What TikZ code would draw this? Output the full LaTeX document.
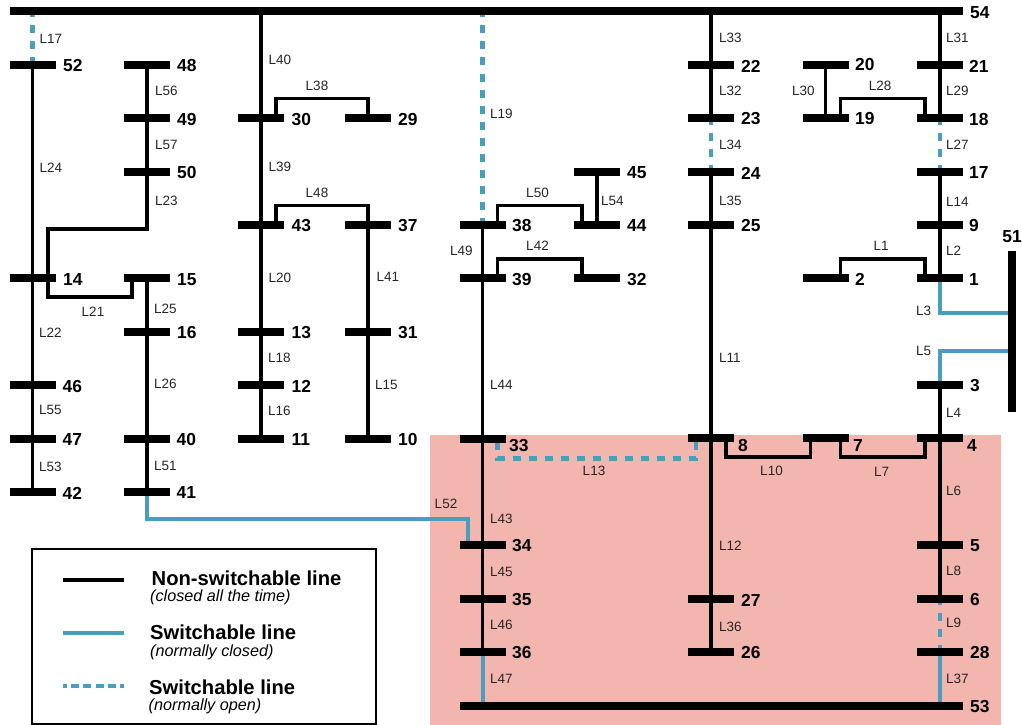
\documentclass[tikz,border=0pt]{standalone}
\usepackage{fontspec}
\usetikzlibrary{backgrounds}
\setmainfont{Liberation Sans}
\definecolor{swblue}{HTML}{4A9DBC}
\definecolor{zonepink}{HTML}{F3B6AF}
\begin{document}
\begin{tikzpicture}[
  x=1pt, y=-1pt,
  bus/.style={rectangle, fill=black, inner sep=0pt, outer sep=-1.5pt, minimum width=46pt, minimum height=8pt},
  busnum/.style={anchor=west, inner sep=0pt, font=\fontsize{17.4}{18}\selectfont\bfseries},
  lab/.style={anchor=west, inner sep=0pt, text=black!85, font=\fontsize{13.5}{14}\selectfont},
  labc/.style={lab, anchor=center},
  nline/.style={line width=3.8pt, black},
  swline/.style={line width=4pt, swblue},
  openline/.style={line width=4.2pt, swblue, dash pattern=on 8pt off 8pt, dash phase=4.5pt},
  keyhead/.style={anchor=west, inner sep=0pt, font=\fontsize{20.2}{21}\selectfont\bfseries},
  keysub/.style={anchor=west, inner sep=0pt, font=\fontsize{16.2}{17}\selectfont\itshape}
]
  \useasboundingbox (0,0) rectangle (1022,725);

  % Barras largas
  \node[bus, minimum width=953pt] (b54) at (486.5,11.5) {};
  \node[bus, minimum width=503pt] (b53) at (711,705.5) {};
  \node[bus, minimum width=8pt, minimum height=160.5pt] (b51) at (1012,331.5) {};

  % Columna 1
  \node[bus] (b52) at (32.5,65) {};
  \node[bus] (b14) at (32.5,278.3) {};
  \node[bus] (b46) at (32.5,385) {};
  \node[bus] (b47) at (32.5,438.7) {};
  \node[bus] (b42) at (32.5,491.7) {};

  % Columna 2
  \node[bus] (b48) at (147,65) {};
  \node[bus] (b49) at (147,118) {};
  \node[bus] (b50) at (147,171.7) {};
  \node[bus] (b15) at (147,278.3) {};
  \node[bus] (b16) at (147,332) {};
  \node[bus] (b40) at (147,438.7) {};
  \node[bus] (b41) at (147,491.7) {};

  % Columna 3
  \node[bus] (b30) at (261,118) {};
  \node[bus] (b43) at (261,225) {};
  \node[bus] (b13) at (261,332) {};
  \node[bus] (b12) at (261,385) {};
  \node[bus] (b11) at (261,438.7) {};

  % Columna 4
  \node[bus] (b29) at (368,118) {};
  \node[bus] (b37) at (368,225) {};
  \node[bus] (b31) at (368,332) {};
  \node[bus] (b10) at (368,438.7) {};

  % Columna 5
  \node[bus] (b38) at (482.5,225) {};
  \node[bus] (b39) at (482.5,278.3) {};
  \node[bus] (b33) at (482.5,439) {};
  \node[bus] (b34) at (482.5,545) {};
  \node[bus] (b35) at (482.5,598.7) {};
  \node[bus] (b36) at (482.5,652) {};

  % Columna 6
  \node[bus] (b45) at (597,171.7) {};
  \node[bus] (b44) at (597,225) {};
  \node[bus] (b32) at (597,278.3) {};

  % Columna 7
  \node[bus] (b22) at (711,65) {};
  \node[bus] (b23) at (711,118) {};
  \node[bus] (b24) at (711,171.7) {};
  \node[bus] (b25) at (711,225) {};
  \node[bus] (b8) at (711,438.3) {};
  \node[bus] (b27) at (711,598.7) {};
  \node[bus] (b26) at (711,652) {};

  % Columna 8
  \node[bus] (b20) at (825.5,65) {};
  \node[bus] (b19) at (825.5,118) {};
  \node[bus] (b2) at (825.5,278.3) {};
  \node[bus] (b7) at (825.5,438.3) {};

  % Columna 9
  \node[bus] (b21) at (940,65) {};
  \node[bus] (b18) at (940,118) {};
  \node[bus] (b17) at (940,171.7) {};
  \node[bus] (b9) at (940,225) {};
  \node[bus] (b1) at (940,278.3) {};
  \node[bus] (b3) at (940,385) {};
  \node[bus] (b4) at (940,438.3) {};
  \node[bus] (b5) at (940,545.3) {};
  \node[bus] (b6) at (940,598.7) {};
  \node[bus] (b28) at (940,652) {};

  % Numeros de barra
  \node[busnum] (n54) at (970,13) {54};
  \node[busnum] (n53) at (970,707) {53};
  \node[busnum, anchor=center] (n51) at (1012,237) {51};
  \node[busnum] (n52) at (63,66) {52};
  \node[busnum] (n14) at (63,279.5) {14};
  \node[busnum] (n46) at (62.5,386.5) {46};
  \node[busnum] (n47) at (62.5,440) {47};
  \node[busnum] (n42) at (62.5,493) {42};
  \node[busnum] (n48) at (177,66) {48};
  \node[busnum] (n49) at (177,119.5) {49};
  \node[busnum] (n50) at (177,173) {50};
  \node[busnum] (n15) at (177,279.5) {15};
  \node[busnum] (n16) at (177,333) {16};
  \node[busnum] (n40) at (176.5,440) {40};
  \node[busnum] (n41) at (176.5,493) {41};
  \node[busnum] (n30) at (291.5,119.5) {30};
  \node[busnum] (n43) at (291.5,226) {43};
  \node[busnum] (n13) at (291.5,333) {13};
  \node[busnum] (n12) at (291.5,386) {12};
  \node[busnum] (n11) at (291.5,440) {11};
  \node[busnum] (n29) at (398,119.5) {29};
  \node[busnum] (n37) at (398,226) {37};
  \node[busnum] (n31) at (398,333) {31};
  \node[busnum] (n10) at (398,440) {10};
  \node[busnum] (n38) at (512,226) {38};
  \node[busnum] (n39) at (512,279.5) {39};
  \node[busnum] (n33) at (509,446) {33};
  \node[busnum] (n34) at (512,546) {34};
  \node[busnum] (n35) at (512,600) {35};
  \node[busnum] (n36) at (512,653) {36};
  \node[busnum] (n45) at (627,173) {45};
  \node[busnum] (n44) at (627,226) {44};
  \node[busnum] (n32) at (627,279.5) {32};
  \node[busnum] (n22) at (741,66) {22};
  \node[busnum] (n23) at (741,119) {23};
  \node[busnum] (n24) at (741,173) {24};
  \node[busnum] (n25) at (741,226) {25};
  \node[busnum] (n8) at (738,446) {8};
  \node[busnum] (n27) at (741,600) {27};
  \node[busnum] (n26) at (741,653) {26};
  \node[busnum] (n20) at (855,65) {20};
  \node[busnum] (n19) at (855,119) {19};
  \node[busnum] (n2) at (855,279.5) {2};
  \node[busnum] (n7) at (853,446) {7};
  \node[busnum] (n21) at (969,66) {21};
  \node[busnum] (n18) at (969,119.5) {18};
  \node[busnum] (n17) at (969,173) {17};
  \node[busnum] (n9) at (969,226) {9};
  \node[busnum] (n1) at (969,279.5) {1};
  \node[busnum] (n3) at (970,386) {3};
  \node[busnum] (n4) at (967,446) {4};
  \node[busnum] (n5) at (970,546) {5};
  \node[busnum] (n6) at (970,600) {6};
  \node[busnum] (n28) at (970,653) {28};

  % Todo lo que va detras de las barras
  \begin{scope}[on background layer]

  % Zona sombreada
  \fill[zonepink] (430,434.5) rectangle (1001,725);

  % Lineas fijas, columna 1 y 2
  \draw[nline] (b52) -- (b14);  \node[lab] (l24) at (39.5,167.5) {L24};
  \draw[nline] (b14) -- (b46);  \node[lab] (l22) at (39,333) {L22};
  \draw[nline] (b46) -- (b47);  \node[lab] (l55) at (39,410) {L55};
  \draw[nline] (b47) -- (b42);  \node[lab] (l53) at (39,467) {L53};
  \draw[nline] (b48) -- (b49);  \node[lab] (l56) at (155,91) {L56};
  \draw[nline] (b49) -- (b50);  \node[lab] (l57) at (155,145) {L57};
  \draw[nline] (b50) -- ++(0,57) -| ([xshift=15.5pt]b14.north);  \node[lab] (l23) at (155,201) {L23};
  \draw[nline] ([xshift=15.5pt]b14.south) -- ++(0,16) -| ([xshift=-15pt]b15.south);  \node[labc] (l21) at (93,312) {L21};
  \draw[nline] (b15) -- (b16);  \node[lab] (l25) at (154,309) {L25};
  \draw[nline] (b16) -- (b40);  \node[lab] (l26) at (154,384) {L26};
  \draw[nline] (b40) -- (b41);  \node[lab] (l51) at (154,466) {L51};

  % Lineas fijas, columna 3 y 4
  \draw[nline] (b30 |- b54.south) -- (b30);  \node[lab] (l40) at (268.5,60) {L40};
  \draw[nline] (b30) -- (b43);  \node[lab] (l39) at (268.5,167) {L39};
  \draw[nline] (b43) -- (b13);  \node[lab] (l20) at (268.5,278) {L20};
  \draw[nline] (b13) -- (b12);  \node[lab] (l18) at (268,358) {L18};
  \draw[nline] (b12) -- (b11);  \node[lab] (l16) at (268,411) {L16};
  \draw[nline] ([xshift=15pt]b30.north) -- ++(0,-17) -| (b29);  \node[labc] (l38) at (317,86) {L38};
  \draw[nline] ([xshift=15pt]b43.north) -- ++(0,-17) -| (b37);  \node[labc] (l48) at (317,193) {L48};
  \draw[nline] (b37) -- (b31);  \node[lab] (l41) at (376.5,277) {L41};
  \draw[nline] (b31) -- (b10);  \node[lab] (l15) at (375,385) {L15};

  % Lineas fijas, columna 5 y 6
  \draw[nline] (b38) -- (b39);  \node[lab] (l49) at (450,251) {L49};
  \draw[nline] (b39) -- (b33);  \node[lab] (l44) at (490,385) {L44};
  \draw[nline] (b33) -- (b34);  \node[lab] (l43) at (490,519) {L43};
  \draw[nline] (b34) -- (b35);  \node[lab] (l45) at (490,572) {L45};
  \draw[nline] (b35) -- (b36);  \node[lab] (l46) at (490,625) {L46};
  \draw[nline] ([xshift=15pt]b38.north) -- ++(0,-17) -| ([xshift=-15pt]b44.north);  \node[labc] (l50) at (537.5,193) {L50};
  \draw[nline] ([xshift=15pt]b39.north) -- ++(0,-17) -| ([xshift=-15pt]b32.north);  \node[labc] (l42) at (537.5,246) {L42};
  \draw[nline] (b45) -- (b44);  \node[lab] (l54) at (601,201) {L54};

  % Lineas fijas, columna 7 y 8
  \draw[nline] (b22 |- b54.south) -- (b22);  \node[lab] (l33) at (719,38) {L33};
  \draw[nline] (b22) -- (b23);  \node[lab] (l32) at (719,91) {L32};
  \draw[nline] (b24) -- (b25);  \node[lab] (l35) at (719,201) {L35};
  \draw[nline] (b25) -- (b8);  \node[lab] (l11) at (719,358) {L11};
  \draw[nline] (b8) -- (b27);  \node[lab] (l12) at (719,546) {L12};
  \draw[nline] (b27) -- (b26);  \node[lab] (l36) at (719,627) {L36};
  \draw[nline] ([xshift=15pt]b8.south) -- ++(0,16.5) -| ([xshift=-15pt]b7.south);  \node[labc] (l10) at (771.5,471) {L10};
  \draw[nline] ([xshift=15pt]b7.south) -- ++(0,16.5) -| ([xshift=-15pt]b4.south);  \node[labc] (l7) at (881.5,472) {L7};
  \draw[nline] (b20) -- (b19);  \node[lab] (l30) at (792,91) {L30};
  \draw[nline] ([xshift=15pt]b19.north) -- ++(0,-17) -| ([xshift=-15pt]b18.north);  \node[labc] (l28) at (880,86) {L28};
  \draw[nline] ([xshift=15pt]b2.north) -- ++(0,-17) -| ([xshift=-15pt]b1.north);  \node[labc] (l1) at (881,246) {L1};

  % Lineas fijas, columna 9
  \draw[nline] (b21 |- b54.south) -- (b21);  \node[lab] (l31) at (946,38) {L31};
  \draw[nline] (b21) -- (b18);  \node[lab] (l29) at (946,91) {L29};
  \draw[nline] (b17) -- (b9);  \node[lab] (l14) at (946,202) {L14};
  \draw[nline] (b9) -- (b1);  \node[lab] (l2) at (946,251) {L2};
  \draw[nline] (b3) -- (b4);  \node[lab] (l4) at (946,413) {L4};
  \draw[nline] (b4) -- (b5);  \node[lab] (l6) at (946,491) {L6};
  \draw[nline] (b5) -- (b6);  \node[lab] (l8) at (946,571) {L8};

  % Lineas con interruptor, cerradas
  \draw[swline] (b1) |- ([yshift=18.7pt]b51.west);  \node[lab] (l3) at (916,311) {L3};
  \draw[swline] (b3) |- ([yshift=-19pt]b51.west);  \node[lab] (l5) at (916,351) {L5};
  \draw[swline] (b36) -- (b36 |- b53.north);  \node[lab] (l47) at (490,679) {L47};
  \draw[swline] (b28) -- (b28 |- b53.north);  \node[lab] (l37) at (946,679) {L37};
  \draw[swline] (b41) |- ([xshift=-15pt,yshift=26.5pt]b34.center) -- ([xshift=-15pt]b34.north);  \node[labc] (l52) at (446,504) {L52};

  % Lineas con interruptor, abiertas
  \draw[openline] (b52 |- b54.south) -- (b52);  \node[lab] (l17) at (39.5,39) {L17};
  \draw[openline] (b38 |- b54.south) -- (b38);  \node[lab] (l19) at (490,114) {L19};
  \draw[openline, dash phase=3.5pt] (b23) -- (b24);  \node[lab] (l34) at (719,145) {L34};
  \draw[openline, dash phase=3.5pt] (b18) -- (b17);  \node[lab] (l27) at (946,145) {L27};
  \draw[openline] (b6) -- (b28);  \node[lab] (l9) at (946,623) {L9};
  \draw[openline, dash phase=15.5pt] ([xshift=15pt]b33.south) -- ++(0,17) -| ([xshift=-15pt]b8.south);  \node[labc] (l13) at (594,471) {L13};

  \end{scope}

  % Leyenda
  \node[draw=black, line width=1.3pt, inner sep=0pt, minimum width=344pt, minimum height=175pt] (key) at (204,636.5) {};
  \coordinate (k1a) at (63,579.7);  \coordinate (k1b) at (124,579.7);
  \coordinate (k2a) at (63,633);    \coordinate (k2b) at (124,633);
  \coordinate (k3a) at (63,686);    \coordinate (k3b) at (124,686);
  \draw[nline] (k1a) -- (k1b);
  \draw[swline] (k2a) -- (k2b);
  \draw[swline, dash pattern=on 8pt off 4.2pt, dash phase=4pt] (k3a) -- (k3b);
  \node[keyhead] (h1) at (151.5,578.5) {Non-switchable line};
  \node[keysub] (s1) at (150,597.5) {(closed all the time)};
  \node[keyhead] (h2) at (150,632.5) {Switchable line};
  \node[keysub] (s2) at (150,652) {(normally closed)};
  \node[keyhead] (h3) at (149,687) {Switchable line};
  \node[keysub] (s3) at (148.5,706) {(normally open)};
\end{tikzpicture}
\end{document}
